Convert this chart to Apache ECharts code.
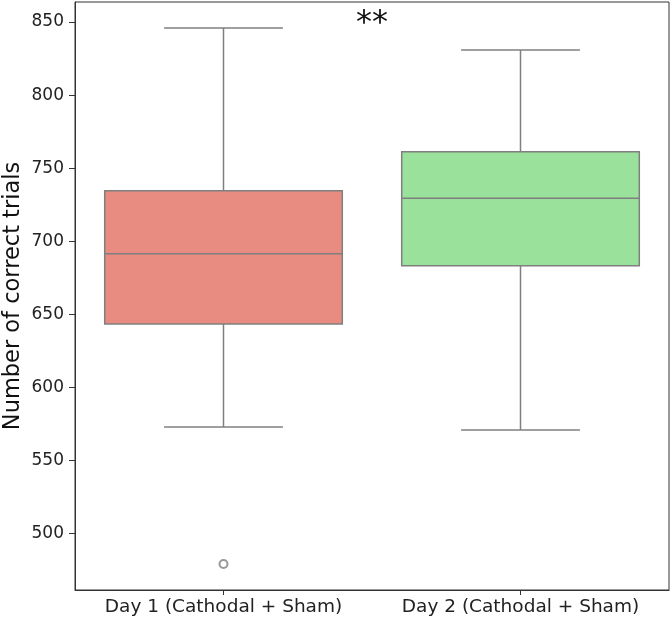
<!DOCTYPE html>
<html>
<head>
<meta charset="utf-8">
<script src="https://cdn.jsdelivr.net/npm/echarts@6/dist/echarts.min.js"></script>
<style>
  html, body { margin: 0; padding: 0; background: #fff; }
  #chart { width: 670px; height: 618px; }
</style>
</head>
<body>
<div id="chart"></div>
<script>
const categories = ['Day 1 (Cathodal + Sham)', 'Day 2 (Cathodal + Sham)'];
// [whiskerLow, q1, median, q3, whiskerHigh]
const boxStats = [
  [573, 643.4, 691.5, 734.6, 845.9],
  [571, 683.3, 729.4, 761.3, 830.8]
];
const outliers = [[0, 479.3]];
const boxColors = ['#e88c82', '#9ae19b'];
const yTicks = [500, 550, 600, 650, 700, 750, 800, 850];

const chart = echarts.init(document.getElementById('chart'));
const font = 'DejaVu Sans';

const boxData = boxStats.map((s, i) => [i].concat(s));

const renderBox = (params, api) => {
  const idx = api.value(0);
  const band = api.size([1, 0])[0];
  const half = band * 0.4;
  const cap = half / 2;
  const pLow = api.coord([idx, api.value(1)]);
  const pQ1 = api.coord([idx, api.value(2)]);
  const pMed = api.coord([idx, api.value(3)]);
  const pQ3 = api.coord([idx, api.value(4)]);
  const pHigh = api.coord([idx, api.value(5)]);
  const x = pQ1[0];
  const lineStyle = { stroke: '#7f7f7f', lineWidth: 1.5, fill: null };
  return {
    type: 'group',
    children: [
      { type: 'line', shape: { x1: x, y1: pQ3[1], x2: x, y2: pHigh[1] }, style: lineStyle },
      { type: 'line', shape: { x1: x, y1: pQ1[1], x2: x, y2: pLow[1] }, style: lineStyle },
      { type: 'line', shape: { x1: x - cap, y1: pHigh[1], x2: x + cap, y2: pHigh[1] }, style: lineStyle },
      { type: 'line', shape: { x1: x - cap, y1: pLow[1], x2: x + cap, y2: pLow[1] }, style: lineStyle },
      { type: 'rect', shape: { x: x - half, y: pQ3[1], width: half * 2, height: pQ1[1] - pQ3[1] },
        style: { fill: boxColors[idx], stroke: '#7f7f7f', lineWidth: 1.5 } },
      { type: 'line', shape: { x1: x - half, y1: pMed[1], x2: x + half, y2: pMed[1] }, style: lineStyle }
    ]
  };
};

const option = {
  animation: false,
  grid: {
    left: 75, right: 1, top: 2, bottom: 28,
    outerBoundsMode: 'none',
    containLabel: false,
    show: true, borderColor: '#333', borderWidth: 1, backgroundColor: 'transparent'
  },
  xAxis: {
    type: 'category',
    data: categories,
    axisLine: { show: true, lineStyle: { color: '#333', width: 1 } },
    axisTick: { show: true, alignWithLabel: true, length: 5, lineStyle: { color: '#333' } },
    axisLabel: { fontFamily: font, fontSize: 18.5, color: '#222', margin: 8, interval: 0, hideOverlap: false },
    splitLine: { show: false }
  },
  yAxis: {
    type: 'value',
    min: 461.5,
    max: 863.7,
    name: 'Number of correct trials',
    nameLocation: 'middle',
    nameGap: 50,
    nameMoveOverlap: false,
    nameTextStyle: { fontFamily: font, fontSize: 22.5, color: '#111' },
    axisLine: { show: true, lineStyle: { color: '#333', width: 1 } },
    axisTick: { show: true, length: 6, customValues: yTicks, lineStyle: { color: '#333' } },
    axisLabel: { fontFamily: font, fontSize: 17, color: '#222', margin: 11, customValues: yTicks },
    splitLine: { show: false }
  },
  series: [
    {
      type: 'custom',
      renderItem: renderBox,
      data: boxData,
      encode: { x: 0, y: [1, 2, 3, 4, 5] },
      z: 2
    },
    {
      type: 'scatter',
      data: outliers,
      symbol: 'emptyCircle',
      symbolSize: 8,
      itemStyle: { color: '#7f7f7f', borderColor: '#7f7f7f', borderWidth: 1.5 },
      z: 3
    }
  ],
  graphic: [
    {
      type: 'text',
      left: 356,
      top: 8,
      style: { text: '**', font: '32px "DejaVu Sans"', fill: '#111' }
    }
  ]
};

chart.setOption(option);
</script>
</body>
</html>
